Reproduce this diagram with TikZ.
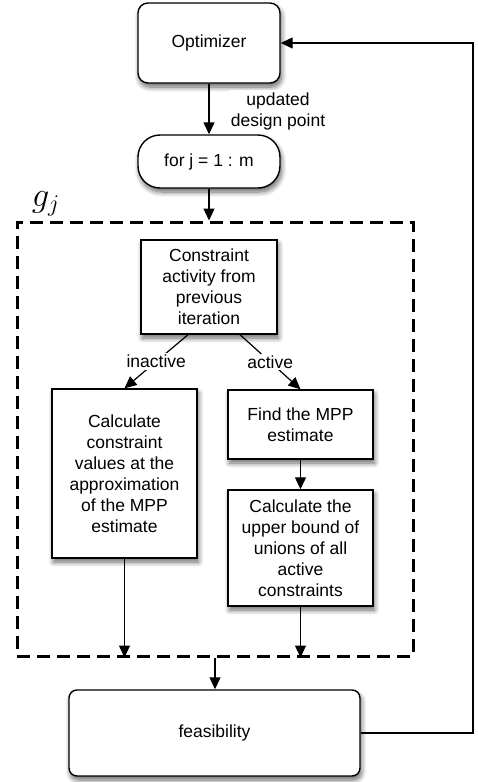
\documentclass[tikz,border=0pt]{standalone}
\usepackage{fontspec}
\setmainfont{Liberation Sans}
\usetikzlibrary{arrows.meta,shadows.blur}
\begin{document}
\begin{tikzpicture}[x=1pt,y=-1pt,
  every node/.style={font=\fontsize{17.5}{21}\selectfont},
  box/.style={draw=black,line width=1.4pt,fill=white,align=center,inner sep=0pt,
    blur shadow={shadow xshift=1.5pt,shadow yshift=-4pt,shadow blur radius=5pt,shadow blur steps=8,shadow opacity=60}},
  arr/.style={line width=1.2pt,-{Triangle[length=12pt,width=11pt]}},
  lbl/.style={fill=white,inner sep=2pt,align=center}]
\useasboundingbox (0,0) rectangle (477,782);
\node[box,minimum width=142pt,minimum height=80pt,rounded corners=10pt] (opt) at (209,43) {Optimizer};
\node[box,minimum width=142pt,minimum height=53pt,rounded corners=22pt] (loop) at (209,161.5) {for j = 1 : m};
\node[draw=black,line width=3pt,dash pattern=on 13pt off 7pt,minimum width=396pt,minimum height=434pt,inner sep=0pt] (grp) at (215,439) {};
\node[scale=2,inner sep=0pt] (gj) at (46,204) {$g_j$};
\node[box,minimum width=136pt,minimum height=94pt] (act) at (209,287) {Constraint\\activity from\\previous\\iteration};
\node[box,minimum width=145pt,minimum height=169pt] (calc) at (124.5,473.5) {Calculate\\constraint\\values at the\\approximation\\of the MPP\\estimate};
\node[box,minimum width=145pt,minimum height=69pt] (find) at (300.5,424.5) {Find the MPP\\estimate};
\node[box,minimum width=145pt,minimum height=116pt] (bound) at (300.5,548) {Calculate the\\upper bound of\\unions of all\\active\\constraints};
\node[box,minimum width=291pt,minimum height=86pt,rounded corners=8pt] (feas) at (214.5,733) {feasibility};
\node[lbl] (upd) at (278,111) {updated\\design point};
\coordinate (fb) at (473,400);
\draw[arr] (opt.south) -- (loop.north);
\draw[arr] (loop.south) -- (loop.south |- grp.north);
\draw[arr] ([xshift=-21pt]act.south) -- node[lbl] (inact) {inactive} (calc.north);
\draw[arr] ([xshift=31pt]act.south) -- node[lbl] (actl) {active} (find.north);
\draw[arr] (find.south) -- (bound.north);
\draw[arr] (calc.south) -- (calc.south |- grp.south);
\draw[arr] (bound.south) -- (bound.south |- grp.south);
\draw[arr] (grp.south) -- (grp.south |- feas.north);
\draw[arr] (feas.east) -- (feas.east -| fb) -- (opt.east -| fb) -- (opt.east);
\end{tikzpicture}
\end{document}
